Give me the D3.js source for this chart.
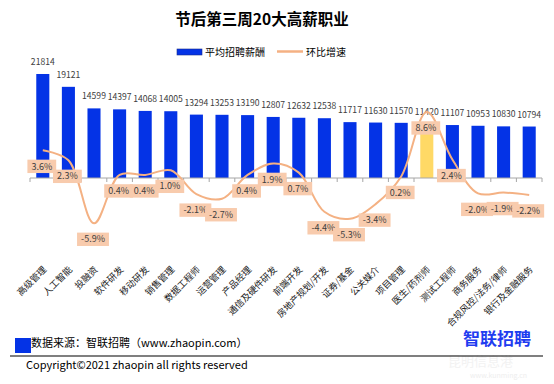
<!DOCTYPE html>
<html>
<head>
<meta charset="utf-8">
<script src="https://cdn.jsdelivr.net/npm/d3@7"></script>
<style>
  body { margin: 0; background: #fff; }
  text { font-family: "Noto Sans CJK SC", "Noto Sans", sans-serif; }
</style>
</head>
<body>
<div class="chart"></div>
<script>
// Chart data
var categories = ["高级管理", "人工智能", "投融资", "软件研发", "移动研发", "销售管理", "数据工程师",
  "运营管理", "产品经理", "通信及硬件研发", "前端开发", "房地产规划/开发", "证券/基金", "公关媒介",
  "项目管理", "医生/药剂师", "测试工程师", "商务服务", "合规风控/法务/律师", "银行及金融服务"];
var salaries = [21814, 19121, 14599, 14397, 14068, 14005, 13294, 13253, 13190, 12807,
  12632, 12538, 11717, 11630, 11570, 11420, 11107, 10953, 10830, 10794];
var growth = [3.6, 2.3, -5.9, 0.4, 0.4, 1.0, -2.1, -2.7, 0.4, 1.9,
  0.7, -4.4, -5.3, -3.4, 0.2, 8.6, 2.4, -2.0, -1.9, -2.2];
var highlighted = "医生/药剂师";
var seriesNames = ["平均招聘薪酬", "环比增速"];

var svgWidth = 554;
var svgHeight = 384;
var baseY = 178;

var blue = "#0433e6";
var orange = "#f4b183";

var svg = d3.select(".chart")
  .append("svg")
  .attr("width", svgWidth)
  .attr("height", svgHeight);

// Scales
var xScale = d3.scaleBand()
  .domain(categories)
  .range([30, 542])
  .paddingInner(0.49)
  .paddingOuter(0.245);

var yScale = d3.scaleLinear()
  .domain([0, 25000])
  .range([baseY, baseY - 119.2]);

var y2Scale = d3.scaleLinear()
  .domain([-10, 10])
  .range([baseY + 76.8, baseY - 76.8]);

var cx = d => xScale(d) + xScale.bandwidth() / 2;

// Title
svg.append("text")
  .attr("x", 262)
  .attr("y", 20)
  .attr("dy", "0.35em")
  .attr("text-anchor", "middle")
  .attr("font-size", "15.5px")
  .attr("font-weight", "bold")
  .attr("fill", "#000")
  .text("节后第三周20大高薪职业");

// Legend
svg.append("rect")
  .attr("x", 177).attr("y", 49)
  .attr("width", 25).attr("height", 6)
  .attr("fill", blue)
  .attr("stroke", "#1a2d8c")
  .attr("stroke-width", 0.6);
svg.append("text")
  .attr("x", 205).attr("y", 52)
  .attr("dy", "0.35em")
  .attr("font-size", "10px")
  .attr("fill", "#000")
  .text(seriesNames[0]);
svg.append("line")
  .attr("x1", 277).attr("x2", 303)
  .attr("y1", 51.5).attr("y2", 51.5)
  .attr("stroke", orange)
  .attr("stroke-width", 2.5);
svg.append("text")
  .attr("x", 306).attr("y", 52)
  .attr("dy", "0.35em")
  .attr("font-size", "10px")
  .attr("fill", "#000")
  .text(seriesNames[1]);

// Bars
svg.selectAll(".bar")
  .data(categories)
  .enter()
  .append("rect")
  .attr("class", "bar")
  .attr("x", d => xScale(d))
  .attr("width", xScale.bandwidth())
  .attr("y", (d, i) => yScale(salaries[i]))
  .attr("height", (d, i) => yScale(0) - yScale(salaries[i]))
  .attr("fill", d => d === highlighted ? "#ffd966" : blue);

// Bar value labels
svg.selectAll(".barLabel")
  .data(categories)
  .enter()
  .append("text")
  .attr("class", "barLabel")
  .attr("x", d => cx(d))
  .attr("y", (d, i) => yScale(salaries[i]) - 9)
  .attr("text-anchor", "middle")
  .attr("font-size", "8.6px")
  .attr("fill", "#404040")
  .text((d, i) => salaries[i]);

// Category axis
var axisG = svg.append("g").attr("transform", `translate(0, ${baseY})`);
axisG.append("line")
  .attr("x1", 30).attr("x2", 542)
  .attr("y1", 0).attr("y2", 0)
  .attr("stroke", "#a6a6a6");
var bounds = categories.map(d => xScale(d) - xScale.step() * xScale.paddingInner() / 2);
bounds.push(542);
axisG.selectAll(".tick")
  .data(bounds)
  .enter()
  .append("line")
  .attr("x1", d => d).attr("x2", d => d)
  .attr("y1", 0).attr("y2", 4)
  .attr("stroke", "#a6a6a6");

// Category labels, placed low like the original
svg.selectAll(".catLabel")
  .data(categories)
  .enter()
  .append("text")
  .attr("class", "catLabel")
  .attr("transform", d => `translate(${cx(d) + 2}, 268) rotate(-45)`)
  .attr("text-anchor", "end")
  .attr("dy", "0.35em")
  .attr("font-size", "9.2px")
  .attr("fill", "#1a1a1a")
  .text(d => d);

// Growth line
var line = d3.line()
  .x((d, i) => cx(categories[i]))
  .y(d => y2Scale(d))
  .curve(d3.curveCatmullRom.alpha(0.5));

svg.append("path")
  .datum(growth)
  .attr("d", line)
  .attr("fill", "none")
  .attr("stroke", orange)
  .attr("stroke-width", 2);

// Growth labels with boxes
var labelG = svg.selectAll(".growthLabel")
  .data(categories)
  .enter()
  .append("g")
  .attr("class", "growthLabel")
  .attr("transform", (d, i) => `translate(${cx(d) - 1}, ${y2Scale(growth[i]) + 16})`);

labelG.append("text")
  .attr("text-anchor", "middle")
  .attr("dy", "0.35em")
  .attr("font-size", "9px")
  .attr("fill", "#404040")
  .text((d, i) => growth[i].toFixed(1) + "%");

labelG.each(function () {
  var g = d3.select(this);
  var bb = g.select("text").node().getBBox();
  g.insert("rect", "text")
    .attr("x", bb.x - 4)
    .attr("y", -6.7)
    .attr("width", bb.width + 8)
    .attr("height", 13.4)
    .attr("fill", "#f8cbad");
});

// Footer
svg.append("rect")
  .attr("x", 15).attr("y", 338)
  .attr("width", 16).attr("height", 15)
  .attr("fill", blue);
svg.append("text")
  .attr("x", 31).attr("y", 343)
  .attr("dy", "0.35em")
  .attr("font-size", "11px")
  .attr("fill", "#000")
  .text("数据来源：智联招聘（www.zhaopin.com）");

// Faint watermark
svg.append("text")
  .attr("x", 448).attr("y", 366)
  .attr("font-size", "13px")
  .attr("fill", "#f2f2f2")
  .text("昆明信息港");
svg.append("text")
  .attr("x", 470).attr("y", 378)
  .attr("font-size", "7px")
  .attr("fill", "#eeeeee")
  .text("www.kunming.cn");

svg.append("line")
  .attr("x1", 10).attr("x2", 543)
  .attr("y1", 356).attr("y2", 356)
  .attr("stroke", "#000")
  .attr("stroke-width", 1.2);
svg.append("text")
  .attr("x", 26).attr("y", 365.5)
  .attr("dy", "0.35em")
  .attr("font-size", "11px")
  .attr("fill", "#000")
  .text("Copyright©2021 zhaopin all rights reserved");

// Logo
svg.append("text")
  .attr("x", 463).attr("y", 345)
  .attr("font-size", "17px")
  .attr("font-weight", "bold")
  .attr("fill", "#1f3cf0")
  .text("智联招聘");
</script>
</body>
</html>
